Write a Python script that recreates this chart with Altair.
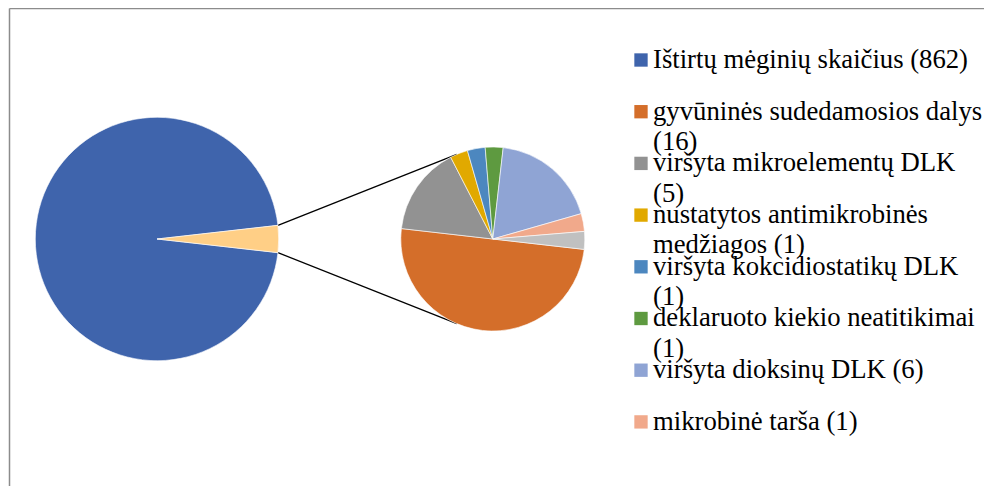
import math
import altair as alt
import pandas as pd

# ---- data ----
main_labels = ["Ištirtų mėginių skaičius (862)", "kita"]
main_values = [862, 32]
main_colors = ["#3F64AC", "#FFCF86"]

sub_labels = [
    "gyvūninės sudedamosios dalys (16)",
    "viršyta mikroelementų DLK (5)",
    "nustatytos antimikrobinės medžiagos (1)",
    "viršyta kokcidiostatikų DLK (1)",
    "deklaruoto kiekio neatitikimai (1)",
    "viršyta dioksinų DLK (6)",
    "mikrobinė tarša (1)",
    "kita (1)",
]
sub_values = [16, 5, 1, 1, 1, 6, 1, 1]
sub_colors = ["#D46E2A", "#929292", "#E1A900", "#4C87BF", "#5E9A40",
              "#8FA4D4", "#F1A98B", "#C0C0C0"]

legend_lines = [
    ["Ištirtų mėginių skaičius (862)"],
    ["gyvūninės sudedamosios dalys", "(16)"],
    ["viršyta mikroelementų DLK", "(5)"],
    ["nustatytos antimikrobinės", "medžiagos (1)"],
    ["viršyta kokcidiostatikų DLK", "(1)"],
    ["deklaruoto kiekio neatitikimai", "(1)"],
    ["viršyta dioksinų DLK (6)"],
    ["mikrobinė tarša (1)"],
]
legend_colors = [main_colors[0]] + sub_colors[:7]

# ---- layout ----
W, H = 976, 478
FONT = "'Liberation Serif', 'Times New Roman', 'DejaVu Serif', serif"
cx1, cy1, r1 = 149, 231, 121.7
cx2, cy2, r2 = 484.8, 231, 92
sub_start = 96.5  # degrees, clockwise from top

main_total = sum(main_values)
other_span = 360 * main_values[1] / main_total
main_start = 90 + other_span / 2
main_rng = [math.radians(main_start), math.radians(main_start + 360)]
sub_rng = [math.radians(sub_start), math.radians(sub_start + 360)]

main_df = pd.DataFrame({"label": main_labels, "value": main_values,
                        "ord": list(range(len(main_values)))})
sub_df = pd.DataFrame({"label": sub_labels, "value": sub_values,
                       "ord": list(range(len(sub_values)))})

main_pie = alt.Chart(main_df).mark_arc(radius=r1, stroke="#ffffff", strokeWidth=0.6).encode(
    theta=alt.Theta("value:Q", stack=True, scale=alt.Scale(range=main_rng)),
    color=alt.Color("label:N", scale=alt.Scale(domain=main_labels, range=main_colors), legend=None),
    order=alt.Order("ord:Q"),
    x=alt.value(cx1), y=alt.value(cy1),
)

sub_pie = alt.Chart(sub_df).mark_arc(radius=r2, stroke="#ffffff", strokeWidth=0.6).encode(
    theta=alt.Theta("value:Q", stack=True, scale=alt.Scale(range=sub_rng)),
    color=alt.Color("label:N", scale=alt.Scale(domain=sub_labels, range=sub_colors), legend=None),
    order=alt.Order("ord:Q"),
    x=alt.value(cx2), y=alt.value(cy2),
)

# connector lines: from the edges of the small slice to the secondary pie
a_top, a_bot = math.radians(90 - other_span / 2), math.radians(90 + other_span / 2)
b_top, b_bot = math.radians(337), math.radians(203)
conn_df = pd.DataFrame({
    "x": [cx1 + r1 * math.sin(a_top), cx1 + r1 * math.sin(a_bot)],
    "y": [cy1 - r1 * math.cos(a_top), cy1 - r1 * math.cos(a_bot)],
    "x2": [cx2 + r2 * math.sin(b_top), cx2 + r2 * math.sin(b_bot)],
    "y2": [cy2 - r2 * math.cos(b_top), cy2 - r2 * math.cos(b_bot)],
})
connectors = alt.Chart(conn_df).mark_rule(color="#000000", strokeWidth=1.3).encode(
    x=alt.X("x:Q", scale=None), y=alt.Y("y:Q", scale=None),
    x2="x2:Q", y2="y2:Q",
)

# legend
leg_df = pd.DataFrame({"idx": list(range(len(legend_lines))),
                       "text": legend_lines,
                       "col": legend_colors})
leg_y = alt.Y("idx:Q", scale=alt.Scale(domain=[0, 7], range=[52, 52 + 7 * 51.7]), axis=None)
leg_sym = alt.Chart(leg_df).mark_square(size=178, opacity=1).encode(
    x=alt.value(633), y=leg_y,
    color=alt.Color("col:N", scale=None),
)
leg_txt = alt.Chart(leg_df).mark_text(
    align="left", baseline="alphabetic", dy=7.8, font=FONT, fontSize=26.7,
    lineHeight=30.5, color="#000000",
).encode(x=alt.value(645), y=leg_y, text="text")

# chart border (left and top edges visible)
border = alt.Chart(pd.DataFrame({"a": [0]})).mark_rule(color="#8C8C8C", strokeWidth=1.5).encode(
    x=alt.value(1.5), x2=alt.value(W + 20), y=alt.value(0.5), y2=alt.value(0.5))
border2 = alt.Chart(pd.DataFrame({"a": [0]})).mark_rule(color="#8C8C8C", strokeWidth=1.5).encode(
    x=alt.value(1.5), x2=alt.value(1.5), y=alt.value(0.5), y2=alt.value(H + 20))

chart = alt.layer(
    border, border2, connectors, main_pie, sub_pie, leg_sym, leg_txt
).resolve_scale(color="independent", theta="independent", y="independent", x="independent").properties(
    width=W, height=H, padding=0, autosize=alt.AutoSizeParams(type="none"),
    background="#ffffff",
).configure_view(stroke=None)

chart.save("out.html", embed_options={"renderer": "svg", "actions": False})
